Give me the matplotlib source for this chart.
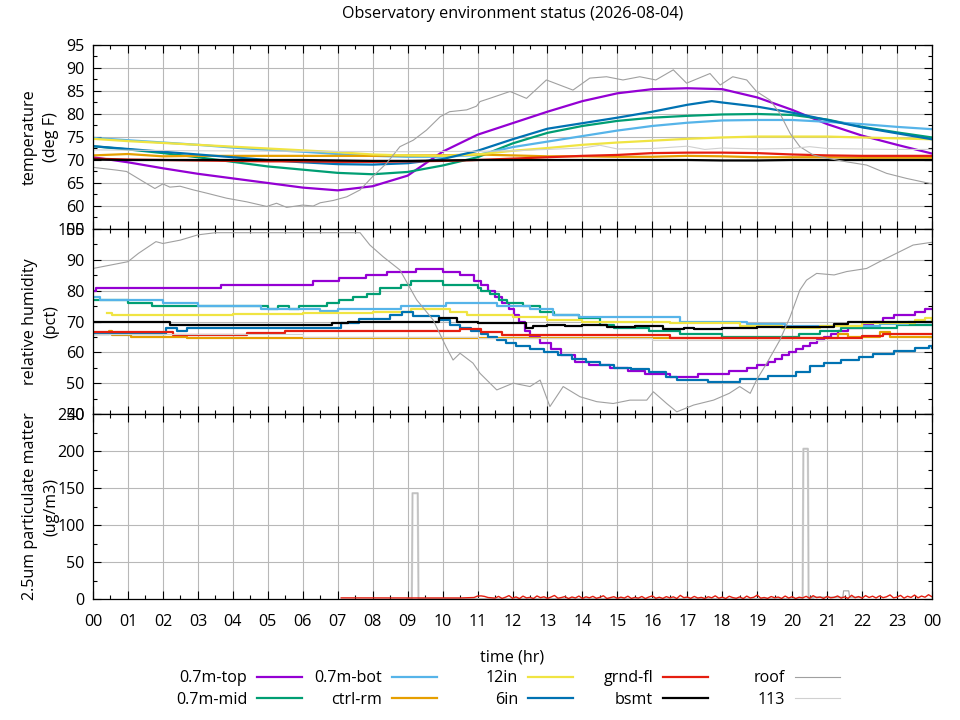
import numpy as np
import matplotlib
matplotlib.use("Agg")
import matplotlib.pyplot as plt
from matplotlib.lines import Line2D
from matplotlib.ticker import MultipleLocator

plt.rcParams['font.family'] = ['Open Sans', 'DejaVu Sans']
plt.rcParams['font.size'] = 11.6

# ---------------- data ----------------
TITLE = "Observatory environment status (2026-08-04)"
SERIES = ["0.7m-top", "0.7m-mid", "0.7m-bot", "ctrl-rm", "12in", "6in",
          "grnd-fl", "bsmt", "roof", "113"]
X_TICK_LABELS = ["00", "01", "02", "03", "04", "05", "06", "07", "08", "09", "10", "11",
                 "12", "13", "14", "15", "16", "17", "18", "19", "20", "21", "22", "23", "00"]

HOURS = list(range(25))

# temperature (deg F)
T_TOP = [70.6, 69.5, 68.2, 67.0, 66.0, 65.0, 64.0, 63.4, 64.3, 66.6, 71.8, 75.5, 78.0,
         80.5, 82.8, 84.5, 85.4, 85.6, 85.4, 83.6, 80.9, 77.8, 75.3, 73.3, 71.4]
T_MID = [73.0, 72.3, 71.5, 70.6, 69.6, 68.6, 67.9, 67.2, 66.9, 67.4, 68.8, 70.6, 73.6,
         75.9, 77.4, 78.5, 79.2, 79.6, 79.9, 80.0, 79.8, 78.8, 77.2, 76.0, 74.9]
T_BOT = [74.8, 74.3, 73.8, 73.3, 72.7, 72.2, 71.8, 71.3, 70.9, 70.7, 70.7, 71.1, 72.8,
         74.0, 75.2, 76.4, 77.4, 78.1, 78.6, 78.7, 78.7, 78.3, 77.8, 77.2, 76.7]
T_CTRL = [71.0, 71.3, 70.8, 70.9, 70.9, 70.9, 70.9, 70.9, 70.9, 71.0, 71.0, 71.2, 71.0,
          70.8, 70.8, 70.7, 70.7, 70.9, 70.8, 70.6, 70.6, 70.6, 70.5, 70.5, 70.5]
T_12IN = [74.6, 74.1, 73.7, 73.3, 72.9, 72.5, 72.1, 71.7, 71.2, 71.0, 70.9, 71.2, 72.0,
          72.6, 73.3, 73.8, 74.2, 74.6, 74.9, 75.1, 75.1, 75.1, 74.9, 74.7, 74.5]
T_6IN_T = [0, 1, 2, 3, 4, 5, 6, 7, 8, 9, 10, 11, 12, 13, 14, 15, 16, 17, 17.7, 18, 19,
           20, 21, 22, 23, 24]
T_6IN = [73.0, 72.4, 71.8, 71.2, 70.6, 70.0, 69.5, 69.1, 69.0, 69.3, 70.2, 72.0, 74.5,
         76.8, 78.0, 79.2, 80.5, 82.0, 82.8, 82.5, 81.6, 80.3, 78.7, 77.1, 75.8, 74.5]
T_GRND = [70.3, 70.1, 70.0, 69.9, 69.8, 69.7, 69.7, 69.6, 69.6, 69.7, 69.8, 70.0, 70.3,
          70.6, 70.9, 71.1, 71.5, 71.6, 71.6, 71.5, 71.2, 71.0, 70.9, 70.9, 70.9]
T_BSMT = [70.1, 70.0, 70.0, 70.0, 70.0, 70.0, 70.0, 69.9, 69.8, 69.8, 69.9, 70.0, 70.0,
          70.0, 70.0, 70.0, 70.0, 70.0, 69.9, 69.9, 70.0, 70.0, 70.0, 70.0, 70.0]
T_113_T = [0, 3, 6, 9, 11, 12, 13, 14, 14.5, 15, 16, 17, 17.5, 18, 19, 20, 20.5, 21, 22, 23, 24]
T_113 = [72.2, 72.0, 71.9, 71.8, 71.9, 72.0, 72.3, 72.6, 73.2, 72.4, 72.5, 73.0, 72.3,
         72.6, 72.4, 72.5, 72.9, 72.5, 72.4, 72.3, 72.3]
T_ROOF_T = [0, 0.68, 0.96, 1.44, 1.77, 2.0, 2.2, 2.49, 2.87, 3.25, 3.82, 4.4, 4.97, 5.25,
            5.54, 6.0, 6.3, 6.5, 6.87, 7.26, 7.64, 8.0, 8.4, 8.78, 9.16, 9.54, 9.93, 10.2,
            10.69, 10.97, 11.07, 11.35, 11.93, 12.4, 12.97, 13.35, 13.73, 14.21, 14.69,
            15.16, 15.64, 16.1, 16.6, 16.98, 17.65, 17.94, 18.3, 18.7, 18.98, 19.37, 19.65,
            19.94, 20.22, 20.6, 20.99, 21.56, 22.13, 22.7, 23.27, 24.0]
T_ROOF = [68.4, 67.8, 67.5, 65.3, 63.8, 64.8, 64.1, 64.3, 63.5, 62.8, 61.7, 60.9, 59.9, 60.6,
          59.7, 60.2, 60.0, 60.7, 61.2, 62.0, 63.5, 66.4, 69.3, 72.9, 74.3, 76.5, 79.4, 80.5,
          80.9, 81.7, 82.7, 83.4, 84.9, 83.4, 87.4, 86.3, 85.2, 87.8, 88.1, 87.4, 88.1, 87.4,
          89.6, 86.7, 88.8, 86.3, 88.1, 87.4, 84.9, 83.0, 80.1, 75.8, 72.9, 71.1, 70.4, 69.6,
          68.9, 67.1, 66.0, 64.8]

# relative humidity (pct) -- step series (time of change, new value)
H_TOP_T = [0, 0.1, 3.65, 6.3, 7.05, 7.8, 8.4, 9.25, 10.0, 10.5, 10.9, 11.1, 11.3, 11.5, 11.7,
           11.9, 12.05, 12.2, 12.35, 12.5, 12.8, 13.1, 13.4, 13.8, 14.2, 14.8, 15.3, 15.8,
           16.5, 17.3, 18.2, 18.7, 19.0, 19.3, 19.5, 19.7, 19.9, 20.1, 20.3, 20.5, 20.7,
           20.9, 21.1, 21.3, 21.6, 22.0, 22.3, 22.6, 22.9, 23.5, 23.8, 24.0]
H_TOP = [80, 81, 82, 83, 84, 85, 86, 87, 86, 85, 83, 82, 80, 78, 76, 74, 72, 70, 67, 65, 63,
         61, 59, 57, 56, 55, 54, 53, 52, 53, 54, 55, 56, 57, 58, 59, 60, 61, 62, 63, 64, 65,
         66, 67, 68, 69, 70, 71, 72, 73, 74, 74]
H_MID_T = [0, 1.0, 1.7, 5.0, 5.3, 5.6, 5.9, 6.7, 7.05, 7.45, 7.85, 8.2, 8.8, 9.1, 10.0, 11.0,
           11.1, 11.35, 11.6, 11.85, 12.3, 12.8, 13.2, 13.9, 14.5, 14.9, 15.9, 16.8, 18.0,
           20.2, 20.8, 21.4, 23.0, 24.0]
H_MID = [77, 76, 75, 74, 75, 74, 75, 76, 77, 78, 79, 81, 82, 83, 82, 81, 80, 79, 77, 76, 75,
         73, 72, 71, 69, 68, 67, 66, 65, 66, 67, 68, 69, 69]
H_BOT_T = [0, 0.2, 2.0, 3.0, 4.8, 6.5, 7.0, 8.8, 10.1, 11.55, 12.5, 13.15, 13.9, 16.8, 18.7,
           19.8, 21.6, 22.5, 23.3, 24.0]
H_BOT = [78, 77, 76, 75, 74, 73.5, 74, 75, 76, 75, 74, 72, 71.5, 70, 69.2, 68.5, 68.5, 69.2,
         70, 70.5]
H_CTRL_T = [0, 0.45, 0.55, 1.1, 2.7, 21.3, 21.6, 22.5, 22.8, 24.0]
H_CTRL = [65.8, 67, 65.6, 65, 64.6, 66, 64.9, 66.5, 64.9, 64.9]
H_12IN_T = [0.4, 0.55, 4.0, 6.0, 8.0, 9.1, 10.2, 10.7, 12.0, 13.0, 14.0, 16.5, 18.5, 19.7,
            20.8, 22.0, 23.5, 23.8, 24.0]
H_12IN = [72.6, 72, 72.3, 72.7, 73, 74, 73, 72, 71.5, 70.5, 70, 69.5, 68.5, 68, 68.5, 69.5,
          70.5, 71, 70.5]
H_6IN_T = [0, 2.1, 2.4, 2.7, 4.9, 7.1, 7.6, 8.5, 8.85, 9.15, 9.9, 10.2, 10.5, 10.8, 11.1,
           11.3, 11.55, 11.8, 12.1, 12.5, 12.9, 13.3, 13.7, 14.1, 14.5, 14.9, 15.4, 15.9,
           16.4, 16.7, 17.6, 18.5, 19.3, 20.1, 20.5, 20.9, 21.4, 21.9, 22.3, 22.9, 23.5,
           23.9, 24.0]
H_6IN = [66, 68, 67, 68, 68, 69.5, 70.7, 72, 73, 71.7, 70.5, 69, 68, 67, 66, 65, 64, 63, 62,
         61, 60, 59, 58, 57, 56, 55, 54.5, 53.5, 52, 51, 50.5, 51.2, 52.3, 53.5, 55.5, 56.5,
         57.5, 58.5, 59.5, 60.3, 61.3, 62, 61.5]
H_GRND_T = [0, 2.3, 4.4, 5.5, 10.5, 11.1, 11.7, 16.5, 22.0, 22.6, 24.0]
H_GRND = [66.7, 65.7, 66.4, 66.8, 67.5, 66.7, 65.6, 64.5, 65.2, 65.9, 65.9]
H_BSMT_T = [0, 2.2, 6.85, 7.3, 9.9, 10.4, 11.0, 12.4, 12.6, 13.0, 13.5, 14.0, 14.7, 15.5,
            16.3, 16.9, 17.2, 18.0, 19.0, 21.2, 21.6, 24.0]
H_BSMT = [70, 69, 69.5, 70, 71, 70, 69.5, 68, 68.5, 69, 68.5, 69, 68.3, 68.5, 67.5, 68, 67.5,
          68, 68.3, 69.2, 70, 70]
H_113_T = [0, 6, 11, 16, 24]
H_113 = [65.8, 65.0, 64.5, 64.0, 64.2]
H_ROOF_T = [0, 0.5, 1.0, 1.3, 1.8, 2.0, 2.5, 3.0, 3.5, 7.64, 7.92, 8.3, 8.78, 9.26, 9.73,
            10.1, 10.3, 10.5, 10.87, 11.07, 11.55, 12.02, 12.5, 12.79, 13.07, 13.45, 13.93,
            14.41, 14.88, 15.36, 15.84, 16.03, 16.41, 16.7, 17.18, 17.75, 18.2, 18.5, 18.8,
            18.98, 19.27, 19.65, 19.94, 20.22, 20.41, 20.7, 21.2, 21.56, 22.13, 22.5, 22.98,
            23.46, 24.0]
H_ROOF = [87.2, 88.3, 89.4, 92.1, 95.9, 95.3, 96.4, 98.1, 98.8, 98.8, 94.8, 91.0, 86.7, 77.0,
          70.5, 61.8, 57.5, 59.7, 56.5, 53.2, 47.8, 50.0, 48.9, 51.0, 42.4, 48.9, 45.6, 44.0,
          43.4, 44.5, 44.5, 47.2, 43.4, 40.7, 42.9, 44.5, 46.7, 48.9, 46.7, 51.0, 56.4, 64.0,
          71.5, 80.2, 83.4, 85.6, 85.1, 86.2, 87.2, 89.4, 92.1, 94.8, 95.7]

# 2.5um particulate matter (ug/m3)
PM_GRND_T0 = [7.1, 8.0, 9.0, 10.0, 10.5, 10.9, 11.0, 11.1, 11.2, 11.3, 11.4]
PM_GRND_V0 = [1.5, 1.5, 1.4, 1.3, 1.4, 2.0, 4.0, 4.2, 3.5, 2.0, 1.6]
PM_GRND_V1 = [1.2, 3.5, 0.8, 2.4, 4.6, 1.0, 2.8, 0.6, 3.9, 1.5,
              2.2, 0.7, 4.1, 1.8, 3.0, 0.9, 2.6, 4.8, 1.1, 2.0,
              3.3, 0.6, 2.7, 1.4, 4.0, 0.8, 2.9, 1.6, 3.6, 1.0,
              2.3, 4.4, 0.7, 1.9, 3.1, 0.9, 2.5, 1.3, 3.8, 0.8,
              2.1, 1.2, 3.4, 0.6, 2.7, 4.2, 1.0, 2.4, 0.8, 3.2,
              1.5, 2.9, 0.7, 4.9, 1.8, 2.6, 0.9, 3.5, 1.3, 2.2,
              0.8, 3.0, 1.6, 4.3, 1.1, 2.5, 0.7, 3.7, 1.9, 1.0,
              2.8, 0.6, 3.9, 1.4, 2.3, 5.2, 1.2, 2.0, 0.9, 3.3,
              1.7, 2.6, 0.8, 4.0, 1.3, 3.1, 0.7, 2.4, 1.5, 3.6,
              1.0, 4.5, 1.9, 2.7, 0.8, 3.4, 1.6, 2.2, 4.1, 1.2,
              2.9, 0.9, 5.0, 1.7, 3.3, 1.1, 4.6, 2.0, 3.8, 1.4,
              4.2, 1.8, 3.0, 5.5, 1.5, 2.6, 4.9, 1.2, 3.7, 2.1,
              5.3, 1.6, 4.0, 2.4, 5.8, 3.0]
PM_113_T = [9.0, 9.12, 9.14, 9.29, 9.31, 9.5, 20.2, 20.3, 20.32, 20.45, 20.47, 20.6]
PM_113 = [0, 0, 143, 143, 0, 0, 0, 0, 203, 203, 0, 0]
PM_ROOF_T = [20.48, 21.45, 21.47, 21.62, 21.64, 22.0]
PM_ROOF = [2.5, 2.5, 11, 11, 2.5, 2.5]

# ---------------- style ----------------
COLORS = {"0.7m-top": "#9400D3", "0.7m-mid": "#009E73", "0.7m-bot": "#56B4E9",
          "ctrl-rm": "#E69F00", "12in": "#F0E442", "6in": "#0072B2",
          "grnd-fl": "#E51E10", "bsmt": "#000000", "roof": "#A0A0A0", "113": "#D0D0D0"}
LW = {k: 1.6 for k in COLORS}
LW["roof"] = 0.8
LW["113"] = 0.8

fig = plt.figure(figsize=(9.6, 7.2), dpi=100)
L, W = 93 / 960, 839 / 960
ax_t = fig.add_axes([L, 1 - 229 / 720, W, 184 / 720])
ax_h = fig.add_axes([L, 1 - 414 / 720, W, 185 / 720])
ax_p = fig.add_axes([L, 1 - 599 / 720, W, 185 / 720])


def style(ax, ylo, yhi, ymaj, ymin, label, show_x):
    ax.set_xlim(0, 24)
    ax.set_ylim(ylo, yhi)
    ax.xaxis.set_major_locator(MultipleLocator(1))
    ax.xaxis.set_minor_locator(MultipleLocator(0.5))
    ax.yaxis.set_major_locator(MultipleLocator(ymaj))
    ax.yaxis.set_minor_locator(MultipleLocator(ymin))
    ax.tick_params(which='both', direction='in', top=True, right=True, width=0.8,
                   color='black')
    ax.tick_params(which='major', length=5.8)
    ax.tick_params(which='minor', length=2.9)
    ax.tick_params(axis='y', which='major', pad=6)
    ax.tick_params(axis='x', which='major', pad=11)
    ax.grid(True, which='major', color='#b8b8b8', lw=0.8)
    ax.set_axisbelow(True)
    for s in ax.spines.values():
        s.set_linewidth(0.9)
    ax.set_xticks(HOURS)
    if show_x:
        ax.set_xticklabels(X_TICK_LABELS)
    else:
        ax.set_xticklabels([])
    ax.set_ylabel(label, linespacing=1.4)
    ax.yaxis.set_label_coords(-0.0405, 0.5)


style(ax_t, 55, 95, 5, 2.5, "temperature\n(deg F)", False)
style(ax_h, 40, 100, 10, 5, "relative humidity\n(pct)", False)
style(ax_p, 0, 250, 50, 25, "2.5um particulate matter\n(ug/m3)", True)

# temperature
temp = [("0.7m-top", HOURS, T_TOP), ("0.7m-mid", HOURS, T_MID), ("0.7m-bot", HOURS, T_BOT),
        ("ctrl-rm", HOURS, T_CTRL), ("12in", HOURS, T_12IN), ("6in", T_6IN_T, T_6IN),
        ("grnd-fl", HOURS, T_GRND), ("bsmt", HOURS, T_BSMT), ("roof", T_ROOF_T, T_ROOF),
        ("113", T_113_T, T_113)]
for name, t, v in temp:
    ax_t.plot(t, v, color=COLORS[name], lw=LW[name])

hum = [("0.7m-top", H_TOP_T, H_TOP), ("0.7m-mid", H_MID_T, H_MID),
       ("0.7m-bot", H_BOT_T, H_BOT), ("ctrl-rm", H_CTRL_T, H_CTRL),
       ("12in", H_12IN_T, H_12IN), ("6in", H_6IN_T, H_6IN), ("grnd-fl", H_GRND_T, H_GRND),
       ("bsmt", H_BSMT_T, H_BSMT), ("113", H_113_T, H_113)]
for name, t, v in hum:
    ax_h.plot(t, v, color=COLORS[name], lw=LW[name], drawstyle='steps-post')
ax_h.plot(H_ROOF_T, H_ROOF, color=COLORS["roof"], lw=LW["roof"])

# particulate matter
pm_t1 = np.round(np.arange(11.5, 24.001, 0.1), 2)
ax_p.plot(PM_113_T, PM_113, color=COLORS["113"], lw=1.6)
ax_p.plot(PM_113_T, PM_113, color="#b8b8b8", lw=0.5)
ax_p.plot(PM_ROOF_T, PM_ROOF, color=COLORS["roof"], lw=LW["roof"])
ax_p.plot(list(PM_GRND_T0) + list(pm_t1), PM_GRND_V0 + PM_GRND_V1,
          color=COLORS["grnd-fl"], lw=1.0, clip_on=True)

ax_p.set_xlabel("time (hr)", labelpad=14)

fig.text(512.5 / 960, 1 - 14 / 720, TITLE, ha='center', va='center')

# legend: five columns, text before the line sample (gnuplot style)
col_right = [302, 437, 573, 708, 840]
for c in range(5):
    names = SERIES[2 * c:2 * c + 2]
    handles = [Line2D([], [], color=COLORS[n], lw=LW[n]) for n in names]
    fig.legend(handles, names, loc='center right',
               bbox_to_anchor=(col_right[c] / 960, 1 - 689 / 720),
               markerfirst=False, frameon=False, borderpad=0, borderaxespad=0,
               handlelength=2.8, handletextpad=0.6, labelspacing=0.35)

fig.savefig("out.png", dpi=100)
